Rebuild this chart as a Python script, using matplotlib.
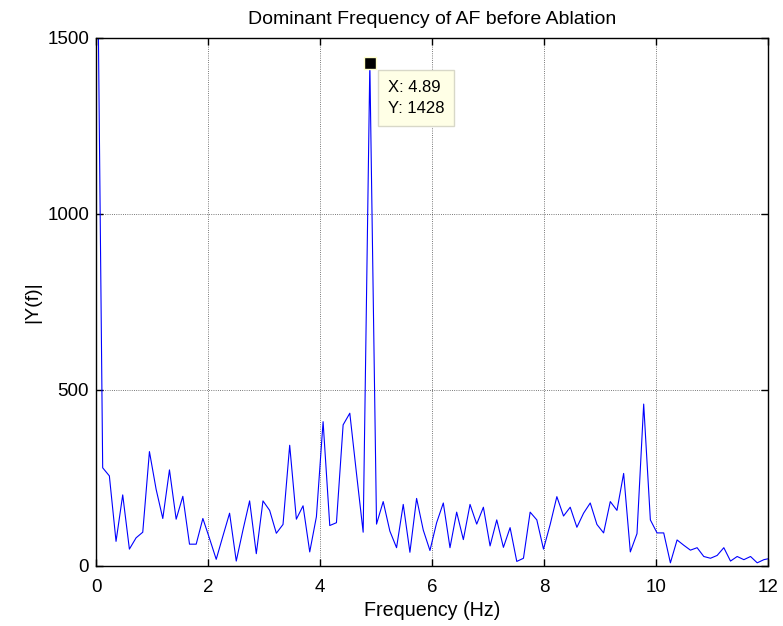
from matplotlib import pyplot as plt
import numpy as np

# FFT magnitude, bin spacing = 4.89 / 41
df = 4.89 / 41
mag = [2200, 279, 256, 70, 202, 48, 80, 96, 325, 218,
       135, 273, 133, 198, 62, 62, 135, 78, 19, 85,
       150, 14, 102, 185, 35, 185, 158, 93, 118, 343,
       133, 171, 40, 140, 410, 115, 123, 401, 434, 263,
       96, 1428, 119, 183, 99, 52, 175, 39, 192, 102,
       44, 123, 179, 52, 153, 75, 175, 119, 167, 57,
       131, 53, 109, 13, 22, 153, 131, 48, 118, 197,
       142, 167, 110, 150, 179, 118, 94, 183, 158, 263,
       40, 92, 460, 131, 94, 94, 9, 74, 59, 45,
       52, 27, 22, 30, 52, 14, 27, 18, 27, 9,
       18, 22]
freq = np.arange(len(mag)) * df

peak_x = 4.89
peak_y = 1428

plt.rcParams['font.family'] = ['Liberation Sans', 'DejaVu Sans']
plt.rcParams['font.size'] = 13.5

fig = plt.figure(figsize=(7.83, 6.26), dpi=100)
ax = fig.add_axes([96/783, 60/626, 672/783, 528/626])
ax.plot(freq, mag, color='blue', linewidth=0.8)

ax.set_xlim(0, 12)
ax.set_ylim(0, 1500)
ax.set_xticks(range(0, 13, 2))
ax.set_yticks([0, 500, 1000, 1500])
ax.grid(True, color='black', linestyle=':', linewidth=0.6, alpha=0.7)
ax.tick_params(direction='in', top=True, right=True, length=5, width=1)
ax.tick_params(axis='x', pad=9)
ax.tick_params(axis='y', pad=5)
for s in ax.spines.values():
    s.set_linewidth(1)

ax.plot([peak_x], [peak_y], marker='s', markersize=9, color='black',
        markeredgecolor='#ffffcc', markeredgewidth=1, clip_on=False, zorder=5)
ax.annotate('X: %.2f\nY: %d' % (peak_x, peak_y), xy=(peak_x, peak_y),
            xytext=(18, -17), textcoords='offset pixels', ha='left', va='top',
            fontsize=12, linespacing=1.45,
            bbox=dict(boxstyle='square,pad=0.6', fc='#ffffe6', ec='#d8d8c8', lw=1),
            zorder=6)

ax.set_xlabel('Frequency (Hz)', fontsize=14.2, labelpad=4)
ax.set_ylabel('|Y(f)|', fontsize=14, labelpad=4)
ax.set_title('Dominant Frequency of AF before Ablation', fontsize=14, pad=10)

plt.savefig('out.png')
